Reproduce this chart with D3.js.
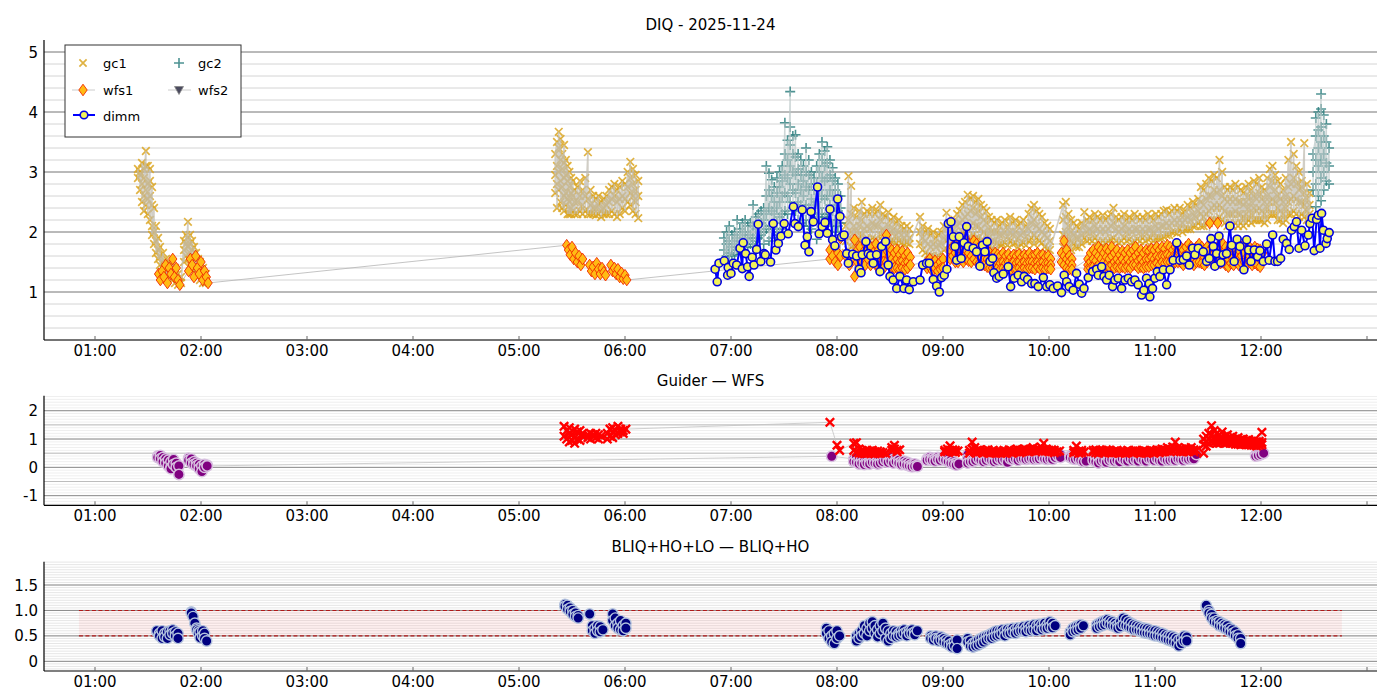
<!DOCTYPE html>
<html><head><meta charset="utf-8">
<script src="https://cdn.jsdelivr.net/npm/d3@7"></script>
<style>body{margin:0;background:#fff} text{font-family:"DejaVu Sans",sans-serif;fill:#000}</style>
</head><body><svg id="c" width="1400" height="700"></svg>
<script>
// ---------- DATA (time = minutes after 00:00, value) ----------
const hourTicks = [1,2,3,4,5,6,7,8,9,10,11,12,13];
const hourLabels = ["01:00","02:00","03:00","04:00","05:00","06:00","07:00","08:00","09:00","10:00","11:00","12:00",""];
const titles = ["DIQ - 2025-11-24","Guider — WFS","BLIQ+HO+LO — BLIQ+HO"];
const legendNames = ["gc1","gc2","wfs1","wfs2","dimm"];

// rows: [time, value, value, ...]
const gc1Rows = [
[84.3,3.05,2.9],[85.5,2.95,2.7,3.0],[86.6,2.8,2.5,3.15],[87.7,3.05,2.6,2.35,2.9],[88.8,3.35,3.1,2.7,2.45],[89.9,3.1,2.8,2.55,2.3],
[91.1,3.05,2.85,2.6,2.2],[92.3,2.75,2.45,2.1,1.95],[93.4,2.4,2.0,1.8],[94.5,2.1,1.85,1.65],[95.7,1.9,1.7,1.55],[96.8,1.75,1.6,1.45],
[98.5,1.65,1.5,1.4],[100.2,1.55,1.45,1.3],[101.9,1.5,1.35,1.25],[103.6,1.45,1.3,1.2],[105.3,1.4,1.25,1.15],[107,1.3,1.2,1.12],[108.7,1.25,1.15],
[110.4,1.85,1.7,1.5],[111.5,1.95,1.8,1.6],[112.6,2.17,1.9,1.75,1.55],[113.8,1.95,1.8,1.65,1.45],[114.9,1.85,1.7,1.5,1.35],[116,1.75,1.6,1.4],
[117.2,1.65,1.45,1.3],[118.3,1.55,1.4,1.25],[119.4,1.5,1.35,1.2],[121.1,1.4,1.25,1.15],[122.8,1.3,1.15],
[320.5,2.65,2.95,3.3],[321.5,3.5,3.1,2.8,2.4],[322.5,3.67,3.4,3.0,2.7],[323.5,3.55,3.2,2.85,2.5],[324.5,3.3,3.05,2.75,2.4],[325.5,3.45,3.15,2.9,2.6,2.35],
[326.5,3.2,2.95,2.65,2.45],[327.5,3.1,2.85,2.55,2.3],[328.5,3.0,2.75,2.5,2.3],[329.5,2.9,2.65,2.4,2.3],[330.5,2.85,2.6,2.35],[331.5,2.7,2.5,2.3],
[333,2.75,2.5,2.3],[334.5,2.85,2.6,2.35],[336,2.7,2.45,2.3],[337.5,2.9,2.6,2.35],[339,3.33,2.55,2.3],[340.5,2.7,2.45,2.3],[342,2.6,2.4,2.3],
[343.5,2.55,2.4,2.28],[345,2.6,2.45,2.3],[346.5,2.5,2.35,2.25],[348,2.55,2.4,2.3],[349.5,2.6,2.45,2.3],[351,2.7,2.5,2.3],[352.5,2.75,2.55,2.35],
[354,2.8,2.6,2.3],[355.5,2.7,2.5,2.25],[357,2.75,2.55,2.3],[358.5,2.85,2.6,2.4],[360,2.8,2.55,2.35],[361.5,3.0,2.75,2.5],[363,3.17,2.9,2.65,2.45],
[364.5,3.05,2.8,2.6,2.35],[366,2.95,2.7,2.5,2.3],[367.5,2.85,2.6,2.23],
[485,2.1,1.85,1.65],[486.5,2.93,2.2,1.9,1.7],[488,2.77,2.3,2.0,1.75],[489.5,2.4,2.1,1.85],[491,2.25,2.0,1.8],[492.5,2.35,2.1,1.9],[494,2.5,2.2,1.95,1.8],
[495.5,2.3,2.05,1.85],[497,2.35,2.1,1.9],[498.5,2.3,2.05,1.85],[500,2.4,2.15,1.9],[501.5,2.3,2.1,1.88],[503,2.35,2.1,1.85],[504.5,2.45,2.2,1.95],
[506,2.3,2.05,1.85],[507.5,2.25,2.0,1.82],[509,2.33,2.1,1.9],[510.5,2.2,2.0,1.85],[512,2.25,2.05,1.85],[513.5,2.15,1.95,1.82],[515,2.2,2.0,1.85],
[516.5,2.1,1.95,1.82],[518,2.05,1.9,1.8],[519.5,2.1,1.95,1.82],[521,2.05,1.9,1.8],
[527,2.25,2.0,1.8],[528.5,2.1,1.9,1.7],[530,2.0,1.85,1.65],[531.5,2.05,1.8,1.62],[533,1.95,1.75,1.6],[534.5,2.0,1.8,1.6],[536,1.9,1.75,1.58],
[537.5,1.95,1.78,1.6],[539,2.0,1.8,1.65],[540.5,2.1,1.9,1.7],[542,2.32,2.05,1.85],[543.5,2.15,1.95,1.8],[545,2.05,1.9,1.75],[546.5,2.2,2.0,1.85],
[548,2.3,2.1,1.9],[549.5,2.35,2.15,1.95],[551,2.45,2.2,2.0],[552.5,2.5,2.25,2.0],[554,2.62,2.3,2.05,1.9],[555.5,2.55,2.35,2.1,1.9],
[557,2.6,2.4,2.15,1.95],[558.5,2.5,2.3,2.1,1.9],[560,2.55,2.35,2.1,1.9],[561.5,2.45,2.25,2.05,1.85],[563,2.4,2.2,2.0,1.85],[564.5,2.35,2.15,1.95,1.8],
[566,2.25,2.05,1.9,1.75],[567.5,2.2,2.0,1.85,1.72],[569,2.15,2.0,1.85,1.7],[570.5,2.2,2.0,1.82,1.7],[572,2.1,1.95,1.8],[573.5,2.15,1.95,1.8],
[575,2.2,2.0,1.82],[576.5,2.1,1.92,1.78],[578,2.25,2.0,1.85],[579.5,2.15,1.95,1.8],[581,2.2,2.0,1.82],[582.5,2.1,1.9,1.75],[584,2.15,1.95,1.8],
[585.5,2.2,2.0,1.82],[587,2.1,1.92,1.78],[588.5,2.3,2.05,1.85],[590,2.4,2.15,1.9],[591.5,2.45,2.2,1.95,1.8],[593,2.35,2.1,1.9],[594.5,2.3,2.05,1.85],
[596,2.25,2.0,1.82],[597.5,2.15,1.95,1.75],[599,2.1,1.9,1.72],[600.5,2.05,1.85,1.7],
[608,2.45,2.2,1.95,1.75],[609.5,2.5,2.25,2.0,1.8],[611,2.3,2.1,1.9,1.75],[612.5,2.2,2.0,1.85,1.7],[614,2.15,1.95,1.8],[615.5,2.1,1.9,1.75],
[617,2.05,1.9,1.75],[618.5,2.15,1.95,1.8],[620,2.33,2.1,1.9],[621.5,2.2,2.0,1.85],[623,2.25,2.05,1.88],[624.5,2.2,2.0,1.85],[626,2.3,2.1,1.9],
[627.5,2.25,2.05,1.85],[629,2.2,2.0,1.82],[630.5,2.28,2.05,1.85],[632,2.2,2.0,1.82],[633.5,2.25,2.05,1.85],[635,2.3,2.1,1.88],[636.5,2.4,2.15,1.9],
[638,2.25,2.05,1.85],[639.5,2.2,2.0,1.82],[641,2.25,2.05,1.85],[642.5,2.3,2.1,1.9],[644,2.2,2.0,1.85],[645.5,2.25,2.05,1.88],[647,2.2,2.0,1.82],
[648.5,2.3,2.05,1.85],[650,2.25,2.05,1.88],[651.5,2.2,2.0,1.85],[653,2.25,2.05,1.9],[654.5,2.2,2.0,1.85],[656,2.3,2.05,1.88],[657.5,2.25,2.05,1.9],
[659,2.2,2.0,1.85],[660.5,2.3,2.1,1.9],[662,2.25,2.05,1.9],[663.5,2.3,2.1,1.9],[665,2.35,2.1,1.92],[666.5,2.37,2.15,1.95],[668,2.3,2.1,1.95],
[669.5,2.35,2.15,2.0],[671,2.4,2.2,2.0],[672.5,2.35,2.15,1.98],[674,2.4,2.2,2.05],[675.5,2.3,2.15,2.0],[677,2.35,2.2,2.05],[678.5,2.45,2.25,2.05],
[680,2.4,2.2,2.05],[681.5,2.5,2.3,2.1],[683,2.45,2.25,2.1],[684.5,2.55,2.35,2.15],[686,2.75,2.5,2.3,2.1],[687.5,2.7,2.45,2.25,2.1],
[689,2.8,2.55,2.3,2.15],[690.5,2.9,2.6,2.35,2.15],[692,2.85,2.6,2.4,2.2],[693.5,2.95,2.7,2.45,2.2],[695,2.9,2.65,2.4,2.2],[696.5,3.2,2.7,2.45,2.25],
[698,3.0,2.6,2.4,2.2],[699.5,2.75,2.55,2.35,2.15],[701,2.7,2.5,2.3,2.1],[702.5,2.75,2.55,2.3,2.15],[704,2.7,2.5,2.3,2.1],[705.5,2.8,2.55,2.35,2.15],
[707,2.75,2.5,2.3,2.1],[708.5,2.7,2.5,2.3,2.15],[710,2.65,2.45,2.25,2.1],[711.5,2.75,2.5,2.3,2.15],[713,2.8,2.6,2.4,2.2],[714.5,2.7,2.5,2.3,2.15],
[716,2.85,2.6,2.4,2.2],[717.5,2.8,2.55,2.35,2.2],[719,2.9,2.65,2.4,2.2],[720.5,2.75,2.55,2.35,2.2],[722,2.7,2.5,2.3,2.15],[723.5,2.9,2.6,2.4,2.2],
[725,3.05,2.75,2.5,2.3],[726.5,3.1,2.85,2.55,2.3],[728,2.95,2.7,2.5,2.3],[729.5,2.85,2.6,2.4,2.2],[731,2.8,2.55,2.35,2.2],[732.5,2.7,2.5,2.3,2.15],
[734,2.9,2.6,2.4,2.2],[735.5,3.2,2.75,2.5,2.3],[737,3.5,2.8,2.55,2.3],[738.5,3.3,2.9,2.6,2.35],[740,3.1,2.8,2.55,2.3],[741.5,3.0,2.7,2.5,2.25],
[743,2.85,2.75,2.5,2.3],[744.5,3.48,2.65,2.45,2.25],[746,2.8,2.55,2.35,2.2],[747.5,2.65,2.45,2.3]
];
const gc2Rows = [
[416,1.7,1.9,1.55],[417.5,1.8,2.0,1.6],[419,2.1,1.85,1.65,1.5],[420.5,1.95,1.75,1.6],[422,2.0,1.8,1.62],[423.5,2.2,1.9,1.7],[425,2.05,1.85,1.7],
[426.5,2.15,1.95,1.75],[428,2.2,2.0,1.8,1.65],[429.5,2.1,1.9,1.75],[431,2.15,1.95,1.8],[432.5,2.45,2.1,1.9,1.75],[434,2.25,2.05,1.85],
[435.5,2.3,2.1,1.9],[437,2.35,2.15,1.95],[438.5,2.4,2.2,2.0,1.8],[440,3.1,2.6,2.3,2.05],[441.5,2.98,2.7,2.4,2.1,1.85],[443,2.87,2.6,2.35,2.1,1.9],
[444.5,2.75,2.5,2.3,2.05],[446,2.9,2.65,2.4,2.15,1.95],[447.5,3.0,2.75,2.5,2.25,2.0],[449,3.1,2.85,2.6,2.3,2.05],[450.5,3.82,3.3,2.95,2.65,2.35],
[452,3.53,3.2,2.9,2.6,2.3],[453.5,4.34,3.75,3.45,3.1,2.8,2.5],[455,3.6,3.3,3.0,2.7,2.4],[456.5,3.62,3.25,2.95,2.65,2.35],[458,3.3,3.05,2.8,2.5,2.2],
[459.5,3.2,2.95,2.7,2.45,2.15],[461,3.1,2.85,2.6,2.35,2.1],[462.5,3.4,3.0,2.75,2.45,2.2],[464,3.2,2.95,2.7,2.4,2.1],[465.5,3.0,2.8,2.55,2.3,2.05],
[467,2.9,2.7,2.45,2.2],[468.5,3.1,2.8,2.5,2.25,1.88],[470,3.3,3.0,2.7,2.4,2.15],[471.5,3.5,3.2,2.9,2.6,2.3],[473,3.35,3.1,2.85,2.55,2.25],
[474.5,3.42,3.15,2.9,2.6,2.3],[476,3.2,2.95,2.7,2.45,2.2],[477.5,3.07,2.85,2.6,2.35,2.1],[479,2.9,2.7,2.45,2.2,2.0],[480.5,2.8,2.6,2.35,2.1],
[482,2.6,2.4,2.15,1.95],
[749.5,2.7,3.0,3.3],[751,3.6,3.9,3.2,2.8,2.42],[752.5,4.0,3.7,3.4,3.1,2.6],[754,4.3,4.05,3.75,3.5,3.2,2.9,2.52],[755.5,3.95,3.6,3.3,3.0,2.7],
[757,3.8,3.5,3.15,2.85],[758.5,3.4,3.1,2.8]
];
const wfs1Rows = [
[96,1.3],[97,1.2],[98,1.35],[99,1.25],[100,1.45],[101,1.15],[102,1.4],[103,1.3],[104,1.55],[105,1.25],[106,1.4],[107,1.2],[108,1.12],
[113,1.35],[114,1.55],[115,1.45],[116,1.25],[117,1.6],[118,1.4],[119,1.3],[120,1.5],[121,1.2],[122,1.35],[123,1.25],[124,1.15],
[327,1.78],[328,1.7],[329,1.62],[330,1.75],[331,1.55],[332,1.65],[333,1.5],[334,1.6],[335,1.45],[336,1.55],
[340,1.45],[341,1.35],[342,1.42],[343,1.3],[344,1.48],[345,1.38],[346,1.3],[347,1.4],[348,1.33],[349,1.28],
[352,1.45],[353,1.35],[354,1.4],[355,1.3],[356,1.38],[357,1.25],[358,1.32],[359,1.22],[360,1.28],[361,1.2],
[476,1.55,1.7],[477.5,1.85,1.6],[479,1.5,1.75],[480.5,1.65,1.45],[482,1.9,1.6],[485,1.6],[487,1.45],[488.5,1.55],[490,1.87,1.26],
[491.5,1.7,1.5],[493,1.75,1.55],[494.5,1.65,1.5],[496,1.8,1.6,1.45],[497.5,1.7,1.55],[499,1.75,1.6,1.45],[500.5,1.65,1.5],[502,1.8,1.6,1.45],
[503.5,1.7,1.55,1.42],[505,1.75,1.6,1.45],[506.5,1.65,1.5,1.4],[508,1.95,1.7,1.5],[509.5,1.75,1.6,1.45],[511,1.7,1.55,1.42],[512.5,1.65,1.5,1.4],
[514,1.7,1.55,1.4],[515.5,1.62,1.5,1.38],[517,1.68,1.52,1.4],[518.5,1.6,1.48,1.38],[520,1.65,1.5,1.4],[521.5,1.58,1.45],
[531,1.5,1.4],[532.5,1.55,1.42],[534,1.48,1.35],[535.5,1.52,1.4],[537,1.45,1.35],[538.5,1.5,1.38],[540,1.55,1.4],
[544,1.7,1.55],[545.5,1.75,1.6],[547,1.8,1.65,1.5],[548.5,1.75,1.6,1.5],[550,1.85,1.7,1.55],[551.5,1.8,1.65,1.5],[553,1.88,1.7,1.55],
[554.5,1.8,1.65,1.52],[556,1.75,1.6,1.5],[557.5,1.85,1.7,1.55],[559,1.8,1.65,1.5],[560.5,1.75,1.6,1.48],[562,1.7,1.58,1.45],[563.5,1.65,1.55,1.45],
[565,1.7,1.55,1.42],[566.5,1.65,1.52,1.4],[568,1.6,1.5,1.4],[569.5,1.65,1.52,1.42],[571,1.62,1.5,1.4],[572.5,1.6,1.48,1.38],[574,1.65,1.5,1.4],
[575.5,1.6,1.48,1.38],[577,1.63,1.5,1.4],[578.5,1.58,1.47,1.38],[580,1.62,1.5,1.4],[581.5,1.6,1.48,1.38],[583,1.63,1.5,1.4],[584.5,1.58,1.47,1.37],
[586,1.62,1.5,1.4],[587.5,1.6,1.48,1.38],[589,1.65,1.5,1.4],[590.5,1.6,1.5,1.4],[592,1.62,1.48,1.38],[593.5,1.65,1.5,1.42],[595,1.6,1.48,1.38],
[596.5,1.62,1.5,1.4],[598,1.58,1.47,1.38],[599.5,1.6,1.48,1.4],[601,1.55,1.45,1.38],
[607,1.65,1.5],[608.5,1.85,1.6,1.45],[610,1.7,1.55,1.4],[611.5,1.6,1.5,1.38],[613,1.55,1.45,1.37],
[622,1.55,1.45,1.38],[623.5,1.65,1.5,1.4],[625,1.7,1.55,1.42],[626.5,1.65,1.52,1.4],[628,1.75,1.6,1.45],[629.5,1.7,1.55,1.42],[631,1.65,1.5,1.4],
[632.5,1.72,1.58,1.45],[634,1.68,1.55,1.42],[635.5,1.75,1.6,1.45],[637,1.65,1.5,1.4],[638.5,1.7,1.55,1.42],[640,1.62,1.5,1.4],[641.5,1.68,1.55,1.42],
[643,1.65,1.5,1.4],[644.5,1.7,1.55,1.42],[646,1.65,1.5,1.4],[647.5,1.7,1.55,1.45],[649,1.75,1.6,1.45],[650.5,1.65,1.52,1.4],[652,1.7,1.55,1.42],
[653.5,1.65,1.5,1.4],[655,1.7,1.55,1.42],[656.5,1.68,1.55,1.42],[658,1.72,1.58,1.45],[659.5,1.7,1.55,1.45],[661,1.75,1.6,1.48],[662.5,1.7,1.58,1.45],
[664,1.75,1.6,1.5],[665.5,1.72,1.6,1.48],[667,1.78,1.62,1.5],[668.5,1.75,1.6,1.5],[670,1.7,1.58,1.45],[671.5,1.75,1.6,1.5],[673,1.72,1.6,1.5],
[674.5,1.75,1.62,1.5],[676,1.7,1.58,1.45],[677.5,1.75,1.6,1.5],[679,1.8,1.65,1.5],[680.5,1.75,1.6,1.48],[682,1.7,1.55,1.45],[683.5,1.75,1.6,1.5],
[685,1.8,1.65,1.5],[686.5,1.75,1.6,1.48],[688,1.7,1.58,1.45],[689.5,1.75,1.6,1.5],[691,2.15,1.7,1.55],[692.5,1.75,1.6,1.48],[694,1.7,1.58,1.45],
[695.5,2.15,1.75,1.6],[697,1.72,1.6,1.48],[698.5,1.8,1.65,1.5],[700,1.75,1.6,1.45],[701.5,1.7,1.55,1.42],[703,1.75,1.6,1.48],[704.5,1.72,1.58,1.45],
[706,1.78,1.62,1.5],[707.5,1.7,1.55,1.45],[709,1.75,1.6,1.48],[710.5,1.8,1.65,1.5],[712,1.72,1.58,1.45],[713.5,1.75,1.6,1.5],[715,1.7,1.55,1.45],
[716.5,1.75,1.6,1.48],[718,1.72,1.58,1.45],[719.5,1.7,1.55,1.42],[721,1.65]
];
const wfs2Rows = [];
const dimm = [
[411.0,1.38],[412.2,1.17],[413.2,1.48],[416.2,1.52],[418.1,1.28],[418.4,1.41],[420.0,1.31],[421.3,1.48],[423.2,1.45],[425.1,1.73],[426.4,1.39],[426.9,1.82],
[428.3,1.64],[429.4,1.42],[430.3,1.26],[432.0,1.58],[433.0,1.45],[434.5,1.71],[435.4,2.13],[436.9,1.51],[438.7,1.64],[439.4,1.62],[442.4,1.5],[443.9,2.14],
[445.4,1.7],[446.8,1.81],[448.3,1.93],[450.1,2.14],[452.4,1.97],[455.3,2.42],[456.2,2.14],[458.1,2.09],[460.3,2.37],[461.9,1.78],[463.2,1.92],[464.1,1.67],
[465.3,2.34],[466.6,2.17],[469.0,2.75],[469.9,1.97],[471.6,2.09],[473.2,2.16],[474.5,1.98],[476.0,2.38],[477.5,1.87],[478.8,1.77],[480.4,2.55],[481.7,2.26],
[482.6,1.92],[484.0,1.95],[485.5,1.64],[486.4,1.48],[488.9,1.63],[491.1,1.6],[492.6,1.38],[493.6,1.32],[494.3,1.62],[496.4,1.84],[497.7,1.64],[499.1,1.61],
[500.5,1.48],[502.4,1.62],[504.3,1.34],[505.3,1.76],[507.5,1.84],[509.0,1.45],[510.0,1.26],[511.8,1.2],[513.8,1.06],[515.6,1.26],[517.9,1.06],[519.4,1.2],
[520.9,1.04],[523.2,1.17],[527.0,1.2],[528.5,1.45],[530.7,1.48],[532.2,1.48],[534.5,1.21],[536.4,1.1],[537.9,1.0],[539.2,1.24],[540.7,1.28],[542.2,1.38],
[543.0,2.14],[544.5,2.17],[545.8,1.92],[546.8,1.76],[547.7,1.53],[549.2,1.92],[550.3,1.56],[551.9,1.82],[553.4,2.09],[554.3,1.76],[557.1,1.73],[559.0,1.67],
[560.9,1.43],[562.4,1.78],[563.7,1.67],[565.0,1.84],[566.6,1.51],[568.1,1.56],[568.8,1.32],[570.4,1.23],[571.8,1.26],[574.1,1.3],[576.9,1.42],[578.3,1.09],
[580.3,1.23],[582.6,1.28],[584.5,1.17],[586.0,1.26],[587.9,1.21],[590.2,1.14],[592.0,1.14],[593.9,1.09],[596.8,1.24],[598.7,1.09],[600.5,1.12],[602.4,1.06],
[604.9,1.1],[607.1,0.99],[608.6,1.28],[610.0,1.17],[611.4,1.09],[613.7,1.03],[615.6,1.31],[617.1,1.13],[618.5,0.98],[619.8,1.06],[622.2,1.24],[624.7,1.34],
[627.0,1.38],[627.9,1.28],[629.8,1.42],[631.1,1.26],[632.6,1.2],[634.1,1.28],[636.0,1.09],[637.3,1.2],[639.2,1.23],[641.1,1.06],[643.0,1.2],[644.9,1.23],
[646.8,1.17],[648.6,1.2],[650.5,1.12],[652.4,0.95],[653.7,1.03],[655.2,1.23],[656.7,1.14],[657.1,0.92],[658.6,1.06],[659.9,1.23],[661.3,1.34],[662.8,1.26],
[664.7,1.37],[666.6,1.12],[668.5,1.37],[670.3,1.53],[672.3,1.82],[674.1,1.53],[676.0,1.54],[677.9,1.6],[679.4,1.45],[681.3,1.73],[682.6,1.62],[684.5,1.73],
[687.3,1.67],[689.2,1.51],[690.7,1.56],[691.7,1.89],[693.0,1.76],[693.9,1.43],[694.9,1.64],[696.2,1.93],[697.3,1.49],[698.6,1.62],[700.5,1.64],[702.4,2.1],
[703.4,1.78],[704.8,1.51],[706.5,1.88],[708.1,1.76],[710.3,1.37],[711.9,1.87],[713.0,1.7],[714.3,1.51],[716.2,1.7],[718.1,1.59],[719.4,1.69],[721.3,1.51],
[723.2,1.8],[724.6,1.53],[726.6,1.95],[727.9,1.51],[729.4,1.51],[731.1,1.56],[732.6,1.88],[734.5,1.81],[736.0,1.71],[737.3,2.03],[738.8,2.09],[740.1,2.17],
[741.5,1.73],[743.0,2.03],[744.9,1.77],[746.8,1.95],[747.7,2.14],[749.0,2.23],[750.1,1.69],[751.5,2.21],[752.4,2.28],[753.4,1.73],[754.3,2.31],[755.3,2.03],
[756.8,1.81],[757.5,1.89],[758.6,1.99]
];
// middle panel
const guiderRows = [
[325.5,1.45,1.1],[327,1.3,1.0],[328.5,1.2,0.9,1.4],[330,1.15,0.95],[331.5,1.35,1.05,0.85],[333,1.25,1.0],[334.5,1.3,0.95],[336,1.1,1.2],
[339,1.15,1.05],[340.5,1.2,1.0],[342,1.1,1.15],[343.5,1.05,1.2],[345,1.15,1.0],[346.5,1.1],
[350,1.2,1.0],[351.5,1.35,1.1],[353,1.25,1.05,1.4],[354.5,1.3,1.15],[356,1.45,1.2],[357.5,1.35,1.25],[359,1.3,1.2],[360.5,1.35],
[476,1.59],[480,0.78],[481.5,0.6],[489.5,0.85,0.6],[491,0.87,0.55],[492.5,0.65,0.5],[494,0.6,0.5],[495.5,0.55,0.48],[497,0.6,0.5],[498.5,0.52,0.58],
[500,0.5,0.6],[501.5,0.55,0.48],[503,0.58,0.5],[504.5,0.5,0.55],[506,0.52],[507.5,0.5],[511,0.6,0.7],[512.5,0.78,0.65],[514,0.6,0.55],[515.5,0.62],
[541,0.6,0.55],[542.5,0.65,0.55],[544,0.6,0.76],[545.5,0.55,0.62],[547,0.6,0.53],[548.5,0.58],
[555,0.6,0.5],[556.5,0.89,0.65],[558,0.7,0.55],[559.5,0.6,0.52],[561,0.62,0.55],[562.5,0.58,0.5],[564,0.6,0.55],[565.5,0.62,0.52],[567,0.55,0.5],
[568.5,0.6,0.52],[570,0.55,0.5],[571.5,0.58,0.52],[573,0.55,0.5],[574.5,0.6,0.52],[576,0.55,0.5],[577.5,0.62,0.55],[579,0.58,0.5],[580.5,0.6,0.55],
[582,0.65,0.55],[583.5,0.6,0.52],[585,0.62,0.55],[586.5,0.58,0.65],[588,0.6,0.55],[589.5,0.65,0.58],[591,0.7,0.6],[592.5,0.62,0.55],[594,0.65,0.58],
[595.5,0.72,0.6],[597,0.85,0.62],[598.5,0.65,0.58],[600,0.6,0.55],[601.5,0.62,0.55],[603,0.6,0.52],[604.5,0.55],[606,0.58],
[614,0.6,0.52],[615.5,0.75,0.55],[617,0.58,0.5],[618.5,0.6,0.52],[620,0.55],
[625,0.55,0.6],[626.5,0.62,0.52],[628,0.58,0.5],[629.5,0.6,0.55],[631,0.58,0.52],[632.5,0.62,0.55],[634,0.6,0.52],[635.5,0.55,0.5],[637,0.58,0.52],
[638.5,0.6,0.55],[640,0.55,0.5],[641.5,0.58,0.52],[643,0.55,0.5],[644.5,0.6,0.52],[646,0.55],[647.5,0.58,0.5],[649,0.6,0.55],[650.5,0.58,0.52],
[652,0.55,0.5],[653.5,0.6,0.52],[655,0.58,0.5],[656.5,0.55,0.52],[658,0.6,0.55],[659.5,0.58,0.5],[661,0.62,0.55],[662.5,0.6,0.52],[664,0.65,0.55],
[665.5,0.62,0.55],[667,0.7,0.58],[668.5,0.65,0.55],[670,0.72,0.6],[671.5,0.89,0.65],[673,0.7,0.58],[674.5,0.65,0.55],[676,0.62,0.55],[677.5,0.68,0.58],
[679,0.65,0.55],[680.5,0.7,0.6],[682,0.62,0.55],[683.5,0.6],
[687.5,0.5,0.8,1.0],[689,0.9,1.1,0.75],[690.5,1.2,1.0,0.85],[692,1.47,1.15,0.9],[693.5,1.3,1.05,0.88],[695,1.2,1.0,0.85],[696.5,1.15,0.98,0.85],
[698,1.25,1.05,0.9],[699.5,1.1,0.95,0.85],[701,1.15,1.0,0.88],[702.5,1.05,0.95,0.85],[704,1.1,0.98,0.85],[705.5,1.0,0.92,0.82],[707,1.05,0.95,0.82],
[708.5,0.98,0.9,0.8],[710,1.0,0.9,0.82],[711.5,0.95,0.88,0.8],[713,0.98,0.9,0.8],[714.5,0.92,0.85,0.78],[716,0.95,0.88,0.78],[717.5,0.9,0.84,0.76],
[719,0.92,0.85,0.78],[720.5,1.24,0.88,0.8]
];
const wfsRows = [
[95.5,0.4,0.35],[97,0.42,0.3],[98.5,0.35,0.2],[100,0.3,0.15],[101.5,0.25,0.05],[103,0.2,0.0,-0.05],[104.5,0.28,0.1],[106,0.15,0.0],[107.5,0.05,-0.25],
[113,0.32,0.25],[114.5,0.3,0.15],[116,0.2,0.1],[117.5,0.15,0.05],[119,0.1,-0.05],[120.5,0.05,-0.15],[122,0.1,0.0],[123.5,0.08,0.05],
[477,0.39],[489.5,0.3,0.2],[491,0.35,0.18],[492.5,0.25,0.12],[494,0.3,0.15],[495.5,0.22,0.1],[497,0.28,0.15],[498.5,0.2,0.12],[500,0.3,0.18],
[501.5,0.25,0.15],[503,0.22,0.12],[504.5,0.3,0.15],[506,0.35,0.2],[507.5,0.4,0.25],[509,0.3,0.18],[510.5,0.35,0.22],[512,0.28,0.15],[513.5,0.3,0.2],
[515,0.25,0.15],[516.5,0.2,0.1],[518,0.22,0.12],[519.5,0.18,0.08],[521,0.15,0.05],[522.5,0.1,0.02],[524,0.12,0.04],[525.5,0.08,0.03],
[531,0.3,0.25],[532.5,0.35,0.28],[534,0.32,0.25],[535.5,0.3,0.22],[537,0.35,0.28],[538.5,0.32,0.25],[540,0.38,0.3],[541.5,0.35,0.25],[543,0.3,0.2],
[544.5,0.25,0.15],[546,0.2,0.12],[547.5,0.15,0.08],[549,0.12],
[554,0.45,0.3,0.15],[555.5,0.35,0.2],[557,0.4,0.3,0.2],[558.5,0.35,0.25],[560,0.4,0.3],[561.5,0.35,0.25],[563,0.38,0.3,0.2],[564.5,0.35,0.25],
[566,0.4,0.3],[567.5,0.35,0.25],[569,0.38,0.28,0.2],[570.5,0.35,0.25],[572,0.4,0.3],[573.5,0.35,0.25],[575,0.38,0.28],[576.5,0.35,0.25,0.18],
[578,0.4,0.3],[579.5,0.38,0.28],[581,0.4,0.3],[582.5,0.35,0.25],[584,0.38,0.3],[585.5,0.4,0.3],[587,0.38,0.28],[588.5,0.4,0.3],[590,0.42,0.32],
[591.5,0.38,0.28],[593,0.42,0.3],[594.5,0.4,0.3],[596,0.45,0.35],[597.5,0.4,0.3],[599,0.38,0.28],[600.5,0.42,0.3],[602,0.4,0.28],[603.5,0.45,0.35],
[605,0.5,0.4],[606.5,0.45,0.35],
[612,0.4,0.35],[613.5,0.38,0.3],[615,0.35,0.28],[616.5,0.38,0.3],[618,0.3,0.25],[619.5,0.25,0.2],[621,0.22],
[625,0.4,0.25],[626.5,0.35,0.2],[628,0.4,0.3,0.15],[629.5,0.35,0.22],[631,0.38,0.25],[632.5,0.3,0.18],[634,0.35,0.25],[635.5,0.4,0.28],[637,0.35,0.22],
[638.5,0.38,0.25],[640,0.35,0.2],[641.5,0.4,0.3],[643,0.35,0.25],[644.5,0.38,0.22],[646,0.4,0.3],[647.5,0.35,0.25],[649,0.38,0.28],[650.5,0.35,0.22],
[652,0.4,0.3],[653.5,0.38,0.25],[655,0.35,0.22],[656.5,0.4,0.3],[658,0.38,0.28],[659.5,0.35,0.25],[661,0.4,0.3],[662.5,0.38,0.25],[664,0.35,0.22],
[665.5,0.4,0.3],[667,0.38,0.25],[668.5,0.35,0.25],[670,0.38,0.28],[671.5,0.35,0.25],[673,0.4,0.3],[674.5,0.38,0.28],[676,0.35,0.25],[677.5,0.4,0.3],
[679,0.38,0.28],[680.5,0.35,0.3],[682,0.42,0.3],[683.5,0.45],
[717,0.45,0.4],[718.5,0.5,0.42],[720,0.55,0.45],[721.5,0.5]
];
// bottom panel
const bliqRows = [
[95,0.58,0.6],[96.5,0.55,0.5],[98,0.6,0.45],[99.5,0.55,0.48],[101,0.58,0.45],[102.5,0.6,0.52],[104,0.62,0.55],[105.5,0.58,0.5],[107,0.55,0.45],
[114.5,0.97,0.95],[115.5,0.88],[116.5,0.75],[117.5,0.65,0.62],[118.5,0.6,0.55],[119.5,0.58,0.46],[121,0.6,0.5],[122,0.55,0.45],[123.2,0.4],
[326,1.12,1.08],[327.5,1.1,1.02],[329,1.05,0.98],[330.5,1.0,0.92],[332,0.95,0.88],[333.5,0.9,0.85],
[340,0.93],[341.5,0.7,0.6],[343,0.65,0.55],[344.5,0.7,0.6],[346,0.68,0.58],[347.5,0.62],
[353,0.93,0.8],[354.5,0.85,0.7],[356,0.75,0.65],[357.5,0.8,0.62],[359,0.7,0.6],[360.5,0.75,0.65],
[474,0.65,0.55],[475.5,0.6,0.45],[477,0.5,0.38],[478.5,0.55,0.35],[480,0.6,0.45],[481.5,0.5],
[491,0.5,0.4],[492.5,0.55,0.45],[494,0.6,0.5],[495.5,0.7,0.55],[497,0.65,0.5],[498.5,0.75,0.6],[500,0.78,0.65],[501.5,0.7,0.55],[503,0.62,0.48],
[504.5,0.7,0.55],[506,0.75,0.6],[507.5,0.65,0.45],[509,0.6,0.4],[510.5,0.55,0.45],[512,0.6,0.5],[513.5,0.58,0.48],[515,0.55,0.5],[516.5,0.6,0.52],
[518,0.62,0.55],[519.5,0.58,0.5],[521,0.6,0.55],[522.5,0.62,0.55],[524,0.58,0.52],[525.5,0.6],
[533,0.5,0.45],[534.5,0.48,0.42],[536,0.5,0.45],[537.5,0.45,0.4],[539,0.48,0.42],[540.5,0.45,0.38],[542,0.42,0.35],[543.5,0.4,0.32],[545,0.35,0.28],
[546.5,0.38,0.3],[548,0.42,0.25],
[554,0.45,0.38],[555.5,0.4,0.3],[557,0.35,0.28],[558.5,0.38,0.3],[560,0.42,0.32],[561.5,0.45,0.35],[563,0.48,0.38],[564.5,0.5,0.42],[566,0.52,0.45],
[567.5,0.55,0.45],[569,0.58,0.48],[570.5,0.6,0.5],[572,0.6,0.52],[573.5,0.62,0.55],[575,0.6,0.5],[576.5,0.63,0.55],[578,0.62,0.55],[579.5,0.65,0.58],
[581,0.63,0.55],[582.5,0.66,0.58],[584,0.65,0.6],[585.5,0.68,0.6],[587,0.66,0.58],[588.5,0.7,0.62],[590,0.68,0.6],[591.5,0.72,0.62],[593,0.7,0.6],
[594.5,0.73,0.65],[596,0.72,0.62],[597.5,0.75,0.65],[599,0.72,0.65],[600.5,0.78,0.68],[602,0.75,0.66],[603.5,0.7],
[612,0.58,0.52],[613.5,0.65,0.58],[615,0.68,0.6],[616.5,0.7,0.62],[618,0.72,0.65],[619.5,0.7],
[627,0.72,0.65],[628.5,0.75,0.68],[630,0.78,0.7],[631.5,0.8,0.72],[633,0.82,0.75],[634.5,0.8,0.72],[636,0.78,0.7],[637.5,0.75,0.68],[639,0.72,0.65],
[640.5,0.78,0.68],[642,0.85,0.72],[643.5,0.82,0.7],[645,0.78,0.68],[646.5,0.75,0.65],[648,0.72,0.62],[649.5,0.7,0.62],[651,0.68,0.6],[652.5,0.66,0.58],
[654,0.65,0.56],[655.5,0.64,0.55],[657,0.62,0.54],[658.5,0.6,0.52],[660,0.6,0.5],[661.5,0.58,0.5],[663,0.56,0.48],[664.5,0.55,0.46],[666,0.52,0.44],
[667.5,0.5,0.42],[669,0.5,0.4],[670.5,0.48,0.38],[672,0.45,0.35],[673.5,0.42,0.3],[675,0.45,0.35],[676.5,0.5,0.4],[678,0.48,0.4],
[689,1.05,1.1],[690.5,1.0,0.95],[692,0.92,0.85],[693.5,0.85,0.78],[695,0.8,0.75],[696.5,0.78,0.7],[698,0.75,0.68],[699.5,0.72,0.65],[701,0.7,0.62],
[702.5,0.65,0.58],[704,0.62,0.55],[705.5,0.58,0.5],[707,0.52,0.45],[708.5,0.45,0.35]
];
const bandLimits = [0.5, 1.0];
const bandSpan = [50.9, 765.8];

// ---------- DRAW ----------
const svg = d3.select("#c");
const W0 = 44, W1 = 1377;
const x = d3.scaleLinear().domain([31.13, 785.66]).range([W0, W1]);
const flat = rows => { const o = []; rows.forEach(r => { for (let i = 1; i < r.length; i++) o.push({t: r[0], v: r[i]}); }); return o; };
// split a flattened series into runs wherever consecutive times jump by more than maxGap minutes
const runs = (pts, maxGap) => { const out = []; let cur = []; pts.forEach((d, i) => { if (i && d.t - pts[i - 1].t > maxGap) { out.push(cur); cur = []; } cur.push(d); }); if (cur.length) out.push(cur); return out; };

const panels = [
  {top: 40, bot: 340, dom: [0.2, 5.2], major: [1,2,3,4,5], labels: ["1","2","3","4","5"], mid: [], minorStep: 0.2, minorColor: "#d4d4d4"},
  {top: 395.7, bot: 505.3, dom: [-1.34, 2.53], major: [-1,0,1,2], labels: ["-1","0","1","2"], mid: [-0.5,0.5,1.5], minorStep: 0.1, minorColor: "#efefef"},
  {top: 561.7, bot: 671, dom: [-0.19, 1.958], major: [0,0.5,1.0,1.5], labels: ["0","0.5","1.0","1.5"], mid: [], minorStep: 0.05, minorColor: "#e6e6e6"}
];
panels.forEach((p, i) => {
  p.y = d3.scaleLinear().domain(p.dom).range([p.bot, p.top]);
  const g = svg.append("g");
  const minors = d3.range(Math.ceil(p.dom[0] / p.minorStep) * p.minorStep, p.dom[1], p.minorStep);
  g.selectAll(null).data(minors).join("line")
    .attr("x1", W0).attr("x2", W1).attr("y1", d => p.y(d)).attr("y2", d => p.y(d))
    .attr("stroke", p.minorColor).attr("stroke-width", 1);
  g.selectAll(null).data(p.mid).join("line")
    .attr("x1", W0).attr("x2", W1).attr("y1", d => p.y(d)).attr("y2", d => p.y(d))
    .attr("stroke", "#bdbdbd").attr("stroke-width", 1);
  g.selectAll(null).data(p.major).join("line")
    .attr("x1", W0).attr("x2", W1).attr("y1", d => p.y(d)).attr("y2", d => p.y(d))
    .attr("stroke", "#8a8a8a").attr("stroke-width", 1);
  p.layer = svg.append("g");
  const ax = svg.append("g");
  ax.append("line").attr("x1", W0).attr("x2", W0).attr("y1", p.top).attr("y2", p.bot).attr("stroke", "#000").attr("stroke-width", 1.2);
  ax.append("line").attr("x1", W0).attr("x2", W1).attr("y1", p.bot).attr("y2", p.bot).attr("stroke", "#000").attr("stroke-width", 1.2);
  ax.selectAll(null).data(hourTicks).join("line")
    .attr("x1", d => x(d * 60)).attr("x2", d => x(d * 60)).attr("y1", p.bot).attr("y2", p.bot - 4)
    .attr("stroke", "#666").attr("stroke-width", 1);
  ax.selectAll(null).data(hourTicks).join("text")
    .attr("x", d => x(d * 60)).attr("y", p.bot + 16).attr("text-anchor", "middle").attr("font-size", 15)
    .text((d, k) => hourLabels[k]);
  ax.selectAll(null).data(p.major).join("text")
    .attr("x", 38).attr("y", d => p.y(d) + 5.5).attr("text-anchor", "end").attr("font-size", 15)
    .text((d, k) => p.labels[k]);
  svg.append("text").attr("x", (W0 + W1) / 2).attr("y", p.top - 10).attr("text-anchor", "middle").attr("font-size", 15).text(titles[i]);
});

const xPath = s => `M${-s},${-s}L${s},${s}M${-s},${s}L${s},${-s}`;
const plusPath = s => `M${-s},0H${s}M0,${-s}V${s}`;
const diamondPath = "M0,-5.8L4.2,0L0,5.8L-4.2,0Z";
const triPath = "M-4.5,-3.5L4.5,-3.5L0,4.5Z";

// ---- top panel ----
(function(){
  const p = panels[0], L = p.layer, y = p.y;
  const gc1 = flat(gc1Rows), gc2 = flat(gc2Rows), wfs1 = flat(wfs1Rows);
  const line = d3.line().x(d => x(d.t)).y(d => y(d.v));
  L.append("path").datum(wfs1).attr("d", line).attr("fill", "none").attr("stroke", "#b5b5b5").attr("stroke-width", 0.8);
  // gc1 markers + light trace inside each run
  L.append("g").selectAll("path").data(gc1).join("path")
    .attr("d", xPath(3.8)).attr("transform", d => `translate(${x(d.t)},${y(d.v)})`)
    .attr("stroke", "#DAA520").attr("stroke-width", 1.7).attr("fill", "none").attr("opacity", 0.85);
  L.append("g").selectAll("path").data(runs(gc1, 8)).join("path")
    .attr("d", line).attr("fill", "none").attr("stroke", "#c2bdb3").attr("stroke-width", 1.6).attr("opacity", 0.75);
  // gc2 markers + trace
  L.append("g").selectAll("path").data(gc2).join("path")
    .attr("d", plusPath(5)).attr("transform", d => `translate(${x(d.t)},${y(d.v)})`)
    .attr("stroke", "#2f8080").attr("stroke-width", 1.6).attr("fill", "none").attr("opacity", 0.85);
  L.append("g").selectAll("path").data(runs(gc2, 8)).join("path")
    .attr("d", line).attr("fill", "none").attr("stroke", "#b9c6c6").attr("stroke-width", 1.4).attr("opacity", 0.7);
  // wfs1 diamonds
  L.append("g").selectAll("path").data(wfs1).join("path")
    .attr("d", diamondPath).attr("transform", d => `translate(${x(d.t)},${y(d.v)})`)
    .attr("fill", "#ffbb14").attr("stroke", "#f02800").attr("stroke-width", 0.9);
  // dimm
  const dd = dimm.map(r => ({t: r[0], v: r[1]}));
  L.append("path").datum(dd).attr("d", line).attr("fill", "none").attr("stroke", "#0000ff").attr("stroke-width", 2);
  L.append("g").selectAll("circle").data(dd).join("circle")
    .attr("cx", d => x(d.t)).attr("cy", d => y(d.v)).attr("r", 4)
    .attr("fill", "#f2f25a").attr("stroke", "#0000e0").attr("stroke-width", 1.6);

  // legend
  const lg = svg.append("g");
  lg.append("rect").attr("x", 65).attr("y", 45).attr("width", 176).attr("height", 92)
    .attr("fill", "#fff").attr("stroke", "#333").attr("stroke-width", 1);
  lg.append("path").attr("d", xPath(3.6)).attr("transform", "translate(83,63)").attr("stroke", "#DAA520").attr("stroke-width", 1.7).attr("opacity", 0.85);
  lg.append("path").attr("d", plusPath(5)).attr("transform", "translate(179,63)").attr("stroke", "#2f8080").attr("stroke-width", 1.6).attr("opacity", 0.85);
  lg.append("line").attr("x1", 72).attr("x2", 95).attr("y1", 90).attr("y2", 90).attr("stroke", "#ccc").attr("stroke-width", 1);
  lg.append("path").attr("d", diamondPath).attr("transform", "translate(83,90)").attr("fill", "#ffbb14").attr("stroke", "#f02800").attr("stroke-width", 0.9);
  lg.append("line").attr("x1", 168).attr("x2", 191).attr("y1", 90).attr("y2", 90).attr("stroke", "#ccc").attr("stroke-width", 1);
  lg.append("path").attr("d", triPath).attr("transform", "translate(179,90)").attr("fill", "#4a4a5e").attr("stroke", "#888").attr("stroke-width", 0.8);
  lg.append("line").attr("x1", 73).attr("x2", 95).attr("y1", 115).attr("y2", 115).attr("stroke", "#0000ff").attr("stroke-width", 2);
  lg.append("circle").attr("cx", 84).attr("cy", 115).attr("r", 3.8).attr("fill", "#f2f25a").attr("stroke", "#0000e0").attr("stroke-width", 1.6);
  const lpos = [[103,68],[198,68],[103,95],[198,95],[103,121]];
  lg.selectAll("text").data(legendNames).join("text")
    .attr("x", (d, k) => lpos[k][0]).attr("y", (d, k) => lpos[k][1]).attr("font-size", 13).text(d => d);
})();

// ---- middle panel ----
(function(){
  const p = panels[1], L = p.layer, y = p.y;
  const gd = flat(guiderRows), wf = flat(wfsRows);
  const line = d3.line().x(d => x(d.t)).y(d => y(d.v));
  L.append("path").datum(wf).attr("d", line).attr("fill", "none").attr("stroke", "#c4c4c4").attr("stroke-width", 0.8);
  L.append("path").datum(gd).attr("d", line).attr("fill", "none").attr("stroke", "#c4c4c4").attr("stroke-width", 0.8);
  L.append("g").selectAll("circle").data(wf).join("circle")
    .attr("cx", d => x(d.t)).attr("cy", d => y(d.v)).attr("r", 5.2)
    .attr("fill", "#800080").attr("stroke", "#d8c0e0").attr("stroke-width", 1.5);
  L.append("g").selectAll("path").data(gd).join("path")
    .attr("d", xPath(4.2)).attr("transform", d => `translate(${x(d.t)},${y(d.v)})`)
    .attr("stroke", "#ff0000").attr("stroke-width", 2.4).attr("fill", "none");
})();

// ---- bottom panel ----
(function(){
  const p = panels[2], L = p.layer, y = p.y;
  L.append("rect").attr("x", x(bandSpan[0])).attr("width", x(bandSpan[1]) - x(bandSpan[0]))
    .attr("y", y(bandLimits[1])).attr("height", y(bandLimits[0]) - y(bandLimits[1]))
    .attr("fill", "#ff0000").attr("opacity", 0.06);
  L.selectAll(null).data(bandLimits).join("line")
    .attr("x1", x(bandSpan[0])).attr("x2", x(bandSpan[1])).attr("y1", d => y(d)).attr("y2", d => y(d))
    .attr("stroke", "#b01818").attr("stroke-width", 1.1).attr("stroke-dasharray", "4,2.5");
  const bl = flat(bliqRows);
  L.append("g").selectAll("circle").data(bl).join("circle")
    .attr("cx", d => x(d.t)).attr("cy", d => y(d.v)).attr("r", 5.2)
    .attr("fill", "#000080").attr("stroke", "#b4c4de").attr("stroke-width", 1.4);
})();
</script></body></html>
